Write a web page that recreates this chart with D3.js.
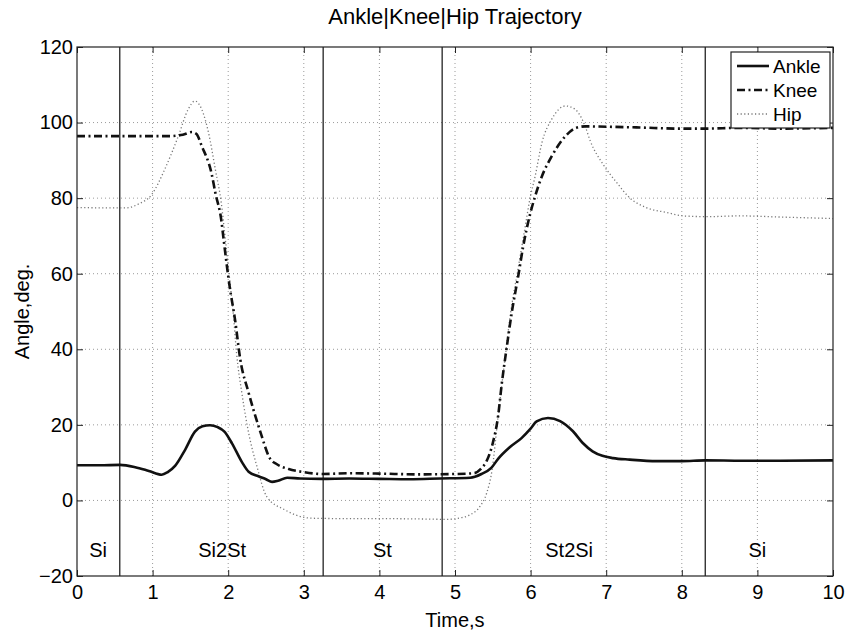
<!DOCTYPE html>
<html>
<head>
<meta charset="utf-8">
<script src="https://cdn.jsdelivr.net/npm/d3@7"></script>
<style>
  body { margin: 0; background: #fff; }
  text { font-family: "Liberation Sans", Arial, sans-serif; fill: #000; }
</style>
</head>
<body>
<div id="chart"></div>
<script>
// time (s) / angle (deg) samples
const ankleT = [0, 0.3, 0.57, 0.77, 0.95, 1.12, 1.2, 1.3, 1.43, 1.56, 1.66, 1.76, 1.86, 1.95, 2.05, 2.18, 2.27, 2.4, 2.5, 2.58, 2.66, 2.78, 2.95, 3.23, 3.6, 4.0, 4.4, 4.8, 5.2, 5.35, 5.48, 5.57, 5.72, 5.88, 6.0, 6.08, 6.23, 6.39, 6.56, 6.69, 6.82, 6.95, 7.09, 7.31, 7.67, 8.0, 8.31, 8.8, 9.3, 10];
const ankleV = [9.3, 9.3, 9.4, 8.8, 7.8, 6.8, 7.5, 9.2, 13.4, 18.2, 19.6, 19.9, 19.4, 18.2, 15.1, 10.2, 7.6, 6.4, 5.6, 4.9, 5.2, 6.0, 5.8, 5.7, 5.8, 5.7, 5.6, 5.8, 6.0, 7.0, 8.6, 11.0, 14.0, 16.5, 19.0, 20.9, 21.8, 21.0, 18.3, 15.2, 13.0, 11.8, 11.2, 10.8, 10.4, 10.4, 10.6, 10.5, 10.5, 10.6];

const kneeT = [0, 1.2, 1.4, 1.52, 1.58, 1.65, 1.78, 1.83, 1.91, 1.94, 2.02, 2.09, 2.16, 2.27, 2.42, 2.55, 2.65, 2.8, 3.0, 3.25, 3.6, 4.0, 4.5, 5.0, 5.25, 5.35, 5.42, 5.5, 5.57, 5.62, 5.68, 5.75, 5.84, 5.9, 5.99, 6.06, 6.15, 6.28, 6.46, 6.59, 6.72, 7.0, 7.44, 7.97, 8.31, 8.77, 9.3, 10];
const kneeV = [96.4, 96.4, 96.8, 97.5, 97.0, 93.8, 86.5, 81.4, 74.0, 69.0, 56.5, 47.9, 37.3, 28.5, 18.5, 11.2, 9.5, 8.3, 7.5, 7.0, 7.2, 7.1, 6.9, 7.0, 7.2, 8.5, 10.5, 15.2, 22.3, 31.1, 39.9, 49.6, 59.8, 67.0, 75.5, 80.5, 85.8, 91.1, 96.4, 98.5, 99.0, 98.9, 98.7, 98.4, 98.4, 98.6, 98.4, 98.6];

const hipT = [0, 0.64, 0.81, 0.99, 1.16, 1.34, 1.47, 1.56, 1.65, 1.74, 1.83, 1.91, 1.96, 2.02, 2.07, 2.11, 2.18, 2.27, 2.38, 2.51, 2.75, 3.1, 3.5, 4.0, 4.5, 4.9, 5.1, 5.2, 5.33, 5.42, 5.49, 5.57, 5.66, 5.73, 5.84, 5.93, 5.99, 6.06, 6.15, 6.28, 6.46, 6.59, 6.72, 6.79, 6.96, 7.14, 7.31, 7.53, 7.8, 8.02, 8.33, 8.77, 9.3, 10];
const hipV = [77.5, 77.4, 78.4, 81.0, 87.6, 96.4, 103.5, 105.7, 103.5, 97.3, 87.6, 78.5, 69.5, 58.4, 48.8, 39.1, 28.5, 17.9, 9.0, 1.0, -2.5, -4.7, -4.8, -4.8, -4.9, -5.0, -4.5, -3.8, -1.6, 2.0, 8.0, 22.3, 37.3, 48.8, 62.0, 72.6, 79.7, 85.8, 94.7, 100.9, 104.4, 103.5, 99.1, 95.1, 88.9, 84.1, 80.1, 77.5, 76.2, 75.3, 75.1, 75.3, 75.0, 74.6];

// phase boundaries and labels
const phaseBounds = [0.566, 3.256, 4.83, 8.31];
const phaseNames = ["Si", "Si2St", "St", "St2Si", "Si"];
const phaseLabelT = [0.28, 1.92, 4.04, 6.51, 9.0];
const phaseLabelV = -13;

const xTicks = [0, 1, 2, 3, 4, 5, 6, 7, 8, 9, 10];
const yTicks = [-20, 0, 20, 40, 60, 80, 100, 120];

const seriesNames = ["Ankle", "Knee", "Hip"];

const W = 847, H = 634;
const margin = { top: 47, right: 14, bottom: 58, left: 77 },
    width = W - margin.left - margin.right,
    height = H - margin.top - margin.bottom;

const fontSize = "20px";

const svg = d3.select("#chart").append("svg")
    .attr("width", W)
    .attr("height", H)
    .style("display", "block");

svg.append("rect").attr("width", W).attr("height", H).attr("fill", "#fff");

const g = svg.append("g")
    .attr("transform", `translate(${margin.left},${margin.top})`);

// Scales
const x = d3.scaleLinear().domain([0, 10]).range([0, width]);
const y = d3.scaleLinear().domain([-20, 120]).range([height, 0]);

// Grid
g.append("g")
    .selectAll("line")
    .data(xTicks.slice(1, -1))
    .enter().append("line")
    .attr("x1", d => x(d)).attr("x2", d => x(d))
    .attr("y1", 0).attr("y2", height)
    .attr("stroke", "#9a9a9a")
    .attr("stroke-width", 1)
    .attr("stroke-dasharray", "1,3");

g.append("g")
    .selectAll("line")
    .data(yTicks.slice(1, -1))
    .enter().append("line")
    .attr("y1", d => y(d)).attr("y2", d => y(d))
    .attr("x1", 0).attr("x2", width)
    .attr("stroke", "#9a9a9a")
    .attr("stroke-width", 1)
    .attr("stroke-dasharray", "1,3");

// Phase boundaries
g.append("g")
    .selectAll("line")
    .data(phaseBounds)
    .enter().append("line")
    .attr("x1", d => x(d)).attr("x2", d => x(d))
    .attr("y1", 0).attr("y2", height)
    .attr("stroke", "#111")
    .attr("stroke-width", 1.2);

g.append("g")
    .selectAll("text")
    .data(phaseNames)
    .enter().append("text")
    .attr("x", (d, i) => x(phaseLabelT[i]))
    .attr("y", y(phaseLabelV))
    .attr("dy", "0.35em")
    .attr("text-anchor", "middle")
    .style("font-size", fontSize)
    .text(d => d);

// Lines
const zip = (ts, vs) => ts.map((t, i) => ({ t: t, v: vs[i] }));
const line = d3.line()
    .x(d => x(d.t))
    .y(d => y(d.v))
    .curve(d3.curveMonotoneX);

const styles = {
    Ankle: { dash: null, width: 2.6, color: "#111" },
    Knee: { dash: "8,3.5,2,3.5", width: 2.6, color: "#111" },
    Hip: { dash: "1.2,2.4", width: 1.3, color: "#777" }
};

const seriesData = {
    Ankle: zip(ankleT, ankleV),
    Knee: zip(kneeT, kneeV),
    Hip: zip(hipT, hipV)
};

["Hip", "Knee", "Ankle"].forEach(name => {
    g.append("path")
        .datum(seriesData[name])
        .attr("d", line)
        .attr("fill", "none")
        .attr("stroke", styles[name].color)
        .attr("stroke-width", styles[name].width)
        .attr("stroke-dasharray", styles[name].dash);
});

// Axes (box with inward ticks on every side)
const tickLen = 6;
g.append("g")
    .attr("transform", `translate(0,${height})`)
    .call(d3.axisBottom(x).tickValues(xTicks).tickSizeInner(-tickLen).tickSizeOuter(0).tickPadding(5))
    .call(a => a.select(".domain").remove())
    .selectAll("text").style("font-size", fontSize).attr("dy", "0.9em");

g.append("g")
    .call(d3.axisLeft(y).tickValues(yTicks).tickSizeInner(-tickLen).tickSizeOuter(0).tickPadding(4)
        .tickFormat(d => d < 0 ? "\u2212" + Math.abs(d) : d))
    .call(a => a.select(".domain").remove())
    .selectAll("text").style("font-size", fontSize);

g.append("g")
    .call(d3.axisTop(x).tickValues(xTicks).tickSizeInner(-tickLen).tickSizeOuter(0).tickFormat(""))
    .call(a => a.select(".domain").remove());

g.append("g")
    .attr("transform", `translate(${width},0)`)
    .call(d3.axisRight(y).tickValues(yTicks).tickSizeInner(-tickLen).tickSizeOuter(0).tickFormat(""))
    .call(a => a.select(".domain").remove());

g.selectAll(".tick line").attr("stroke", "#222");

g.append("rect")
    .attr("width", width)
    .attr("height", height)
    .attr("fill", "none")
    .attr("stroke", "#222")
    .attr("stroke-width", 1.2);

// Title and axis labels
svg.append("text")
    .attr("x", margin.left + width / 2)
    .attr("y", 24)
    .attr("text-anchor", "middle")
    .style("font-size", "22px")
    .text("Ankle|Knee|Hip Trajectory");

svg.append("text")
    .attr("x", margin.left + width / 2)
    .attr("y", 627)
    .attr("text-anchor", "middle")
    .style("font-size", fontSize)
    .text("Time,s");

svg.append("text")
    .attr("transform", `translate(29,${margin.top + height / 2}) rotate(-90)`)
    .attr("text-anchor", "middle")
    .style("font-size", fontSize)
    .text("Angle,deg.");

// Legend
const legend = svg.append("g")
    .attr("transform", "translate(731,52)");

legend.append("rect")
    .attr("width", 99)
    .attr("height", 76)
    .attr("fill", "#fff")
    .attr("stroke", "#222")
    .attr("stroke-width", 1.2);

const rows = legend.selectAll("g.row")
    .data(seriesNames)
    .enter().append("g")
    .attr("class", "row")
    .attr("transform", (d, i) => `translate(0,${14 + i * 24})`);

rows.append("line")
    .attr("x1", 6).attr("x2", 38)
    .attr("stroke", d => styles[d].color)
    .attr("stroke-width", d => styles[d].width)
    .attr("stroke-dasharray", d => styles[d].dash);

rows.append("text")
    .attr("x", 42)
    .attr("dy", "0.35em")
    .style("font-size", "19px")
    .text(d => d);
</script>
</body>
</html>
